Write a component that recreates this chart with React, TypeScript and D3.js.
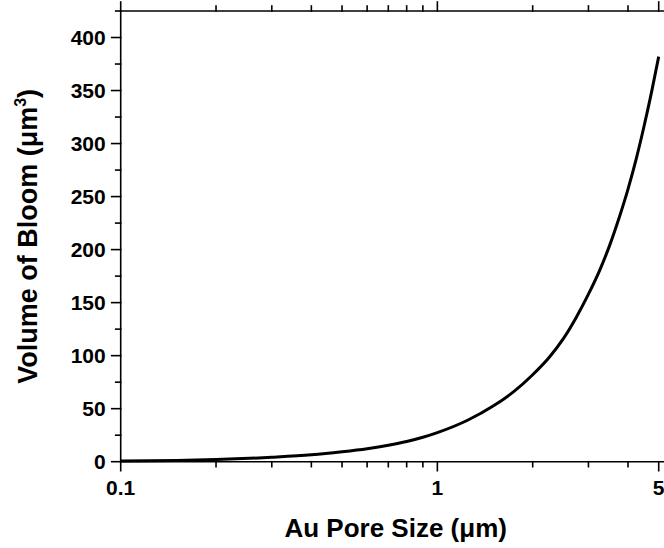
import React from "react";
import * as d3 from "d3";

// Pore size (µm) and the bloom volume (µm³) computed for it
const poreSize = [0.1, 0.15, 0.2, 0.3, 0.4, 0.5, 0.6, 0.7, 0.8, 0.9, 1, 1.25, 1.5, 1.75, 2, 2.25, 2.5, 2.75, 3, 3.25, 3.5, 3.75, 4, 4.25, 4.5, 4.75, 5];
const bloomVolume = [0.6, 1.2, 2.0, 4.2, 6.5, 9.4, 12.3, 15.5, 19.0, 23.0, 27.4, 39.3, 52.5, 66.5, 82, 98, 116, 136.5, 158, 180, 204, 230, 257, 286, 317, 349, 382];

const xMajorTicks = [0.1, 1, 5];
const xTickLabels = ["0.1", "1", "5"];
const xMinorTicks = [0.2, 0.3, 0.4, 0.5, 0.6, 0.7, 0.8, 0.9, 2, 3, 4];
const yMajorTicks = [0, 50, 100, 150, 200, 250, 300, 350, 400];
const yTickLabels = ["0", "50", "100", "150", "200", "250", "300", "350", "400"];
const yMinorTicks = [25, 75, 125, 175, 225, 275, 325, 375, 425];

const W = 664;
const H = 548;
const M = { left: 120.7, right: 658.7, top: 11, bottom: 461.7 };
const FONT = "'Liberation Sans', Arial, Helvetica, sans-serif";

export default function App() {
  const x = d3.scaleLog().domain([0.1, 5]).range([M.left, M.right]);
  const y = d3.scaleLinear().domain([0, 425]).range([M.bottom, M.top]);

  const line = d3
    .line<number>()
    .x((_, i) => x(poreSize[i]))
    .y((d) => y(d))
    .curve(d3.curveMonotoneX);

  const majorLen = 9;
  const minorLen = 5;
  const axisStroke = 1.6;

  return (
    <svg
      width={W}
      height={H}
      style={{ position: "absolute", left: 0, top: 0, background: "#fff" }}
      fontFamily={FONT}
      fontWeight="bold"
    >
      <rect x={0} y={0} width={W} height={H} fill="#fff" />
      <g stroke="#000" strokeWidth={axisStroke} fill="none" strokeLinecap="square">
        {/* frame lines */}
        <line x1={M.left} x2={W} y1={y(0)} y2={y(0)} />
        <line x1={M.left} x2={W} y1={y(425)} y2={y(425)} />
        <line x1={M.left} x2={M.left} y1={y(0)} y2={y(425)} />

        {/* x ticks, bottom and top, both pointing outward */}
        {xMajorTicks.map((t) => (
          <g key={"xM" + t}>
            <line x1={x(t)} x2={x(t)} y1={y(0)} y2={y(0) + majorLen} />
            <line x1={x(t)} x2={x(t)} y1={y(425)} y2={y(425) - majorLen} />
          </g>
        ))}
        {xMinorTicks.map((t) => (
          <g key={"xm" + t}>
            <line x1={x(t)} x2={x(t)} y1={y(0)} y2={y(0) + minorLen} />
            <line x1={x(t)} x2={x(t)} y1={y(425)} y2={y(425) - minorLen} />
          </g>
        ))}

        {/* y ticks, outward */}
        {yMajorTicks.map((t) => (
          <line key={"yM" + t} x1={M.left - majorLen} x2={M.left} y1={y(t)} y2={y(t)} />
        ))}
        {yMinorTicks.map((t) => (
          <line key={"ym" + t} x1={M.left - minorLen} x2={M.left} y1={y(t)} y2={y(t)} />
        ))}
      </g>

      {/* data curve */}
      <path d={line(bloomVolume) || ""} fill="none" stroke="#000" strokeWidth={3} strokeLinejoin="round" />

      {/* tick labels */}
      <g fontSize={21} fill="#000">
        {xMajorTicks.map((t, i) => (
          <text key={"xl" + t} x={x(t)} y={y(0) + 33} textAnchor="middle">
            {xTickLabels[i]}
          </text>
        ))}
        {yMajorTicks.map((t, i) => (
          <text key={"yl" + t} x={M.left - 15} y={y(t)} dy="0.36em" textAnchor="end">
            {yTickLabels[i]}
          </text>
        ))}
      </g>

      {/* axis titles */}
      <text x={(M.left + M.right) / 2 + 6} y={537} textAnchor="middle" fontSize={26} fill="#000">
        Au Pore Size (μm)
      </text>
      <text
        transform={`translate(37, ${(M.top + M.bottom) / 2}) rotate(-90)`}
        textAnchor="middle"
        fontSize={27}
        fill="#000"
      >
        Volume of Bloom (μm
        <tspan fontSize={16} dy={-11}>3</tspan>
        <tspan dy={11}>)</tspan>
      </text>
    </svg>
  );
}
